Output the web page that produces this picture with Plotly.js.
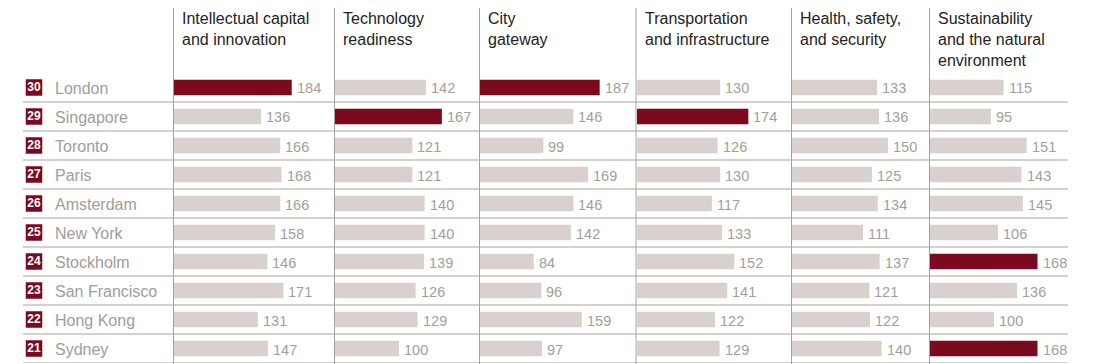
<!DOCTYPE html>
<html><head><meta charset="utf-8">
<script src="https://cdn.plot.ly/plotly-3.0.1.min.js"></script>
<style>html,body{margin:0;padding:0;background:#fff}#chart{width:1096px;height:364px}</style>
</head><body><div id="chart"></div>
<script>
const cities = ["London","Singapore","Toronto","Paris","Amsterdam","New York","Stockholm","San Francisco","Hong Kong","Sydney"];
const ranks = [30,29,28,27,26,25,24,23,22,21];
const headers = [
  ["Intellectual capital","and innovation"],
  ["Technology","readiness"],
  ["City","gateway"],
  ["Transportation","and infrastructure"],
  ["Health, safety,","and security"],
  ["Sustainability","and the natural","environment"]
];
const intellectual = [184,136,166,168,166,158,146,171,131,147];
const technology = [142,167,121,121,140,140,139,126,129,100];
const gateway = [187,146,99,169,146,142,84,96,159,97];
const transport = [130,174,126,130,117,133,152,141,122,129];
const health = [133,136,150,125,134,111,137,121,122,140];
const sustain = [115,95,151,143,145,106,168,136,100,168];
// highlighted (dark red) rows per column
const highlighted = [["London"],["Singapore"],["London"],["Singapore"],[],["Stockholm","Sydney"]];

const series = [intellectual, technology, gateway, transport, health, sustain];
const W = 1096, H = 364;
const colLines = [173.5, 334.5, 479.5, 636, 791.5, 929.5];
const colStart = [174, 335, 480, 637, 792, 930];
const pxPerUnit = 0.64, colW = 140;
const RED = "#7c0a1f", GREY = "#d8d1cd";
const rowTop = 73, rowBottom = 363;
const ydom = [1 - rowBottom / H, 1 - rowTop / H];
const yIdx = cities.map((c, i) => i);

const traces = [], annotations = [], shapes = [];
const layout = {
  width: W, height: H, margin: {l: 0, r: 0, t: 0, b: 0},
  paper_bgcolor: "#fff", plot_bgcolor: "rgba(0,0,0,0)",
  showlegend: false,
  font: {family: "Liberation Sans, Arial, sans-serif"},
  yaxis: {domain: ydom, range: [9.5, -0.5], visible: false, fixedrange: true}
};

series.forEach((vals, k) => {
  const ax = k === 0 ? "" : String(k + 1);
  layout["xaxis" + ax] = {
    domain: [colStart[k] / W, (colStart[k] + colW) / W],
    range: [0, colW / pxPerUnit], visible: false, anchor: "y"
  };
  traces.push({
    type: "bar", orientation: "h", x: vals, y: yIdx,
    xaxis: "x" + ax, yaxis: "y", width: 0.53,
    marker: {color: cities.map(c => highlighted[k].includes(c) ? RED : GREY)},
    hoverinfo: "skip"
  });
  vals.forEach((v, i) => {
    annotations.push({
      x: v, y: i, xref: "x" + ax, yref: "y", text: String(v), showarrow: false,
      xanchor: "left", yanchor: "middle", xshift: 3, yshift: -1,
      font: {size: 14.5, color: "#a39e99"}
    });
  });
  headers[k].forEach((line, j) => {
    annotations.push({
      x: (colLines[k] + 6.5) / W, y: 1 - (8 + 21 * j) / H, xref: "paper", yref: "paper",
      text: line, showarrow: false, xanchor: "left", yanchor: "top",
      font: {size: 16, color: "#232323"}
    });
  });
  shapes.push({type: "line", xref: "paper", yref: "paper",
    x0: colLines[k] / W, x1: colLines[k] / W, y0: 0, y1: 1 - 8 / H,
    line: {color: "#a8a19b", width: 1}});
});

// label axis (pixel units)
layout.xaxis7 = {domain: [0, 170 / W], range: [0, 170], visible: false, anchor: "y"};
traces.push({
  type: "scatter", mode: "markers+text", x: cities.map(() => 34), y: yIdx,
  xaxis: "x7", yaxis: "y", text: ranks.map(String), textposition: "middle center",
  marker: {symbol: "square", size: 15, color: RED, line: {width: 1.5, color: RED}},
  textfont: {size: 12, color: "#fff", family: "Liberation Sans, Arial, sans-serif", weight: "bold"},
  hoverinfo: "skip", cliponaxis: false
});
cities.forEach((c, i) => {
  annotations.push({
    x: 53, y: i, xref: "x7", yref: "y", text: c, showarrow: false,
    xanchor: "left", yanchor: "middle", yshift: -1,
    font: {size: 16, color: "#a29c98"}
  });
  shapes.push({type: "line", xref: "paper", yref: "y",
    x0: 23 / W, x1: 1068 / W, y0: i + 0.5, y1: i + 0.5,
    line: {color: "#aaa39d", width: 1}});
});

layout.annotations = annotations;
layout.shapes = shapes;
Plotly.newPlot("chart", traces, layout, {displayModeBar: false, staticPlot: true});
</script></body></html>
